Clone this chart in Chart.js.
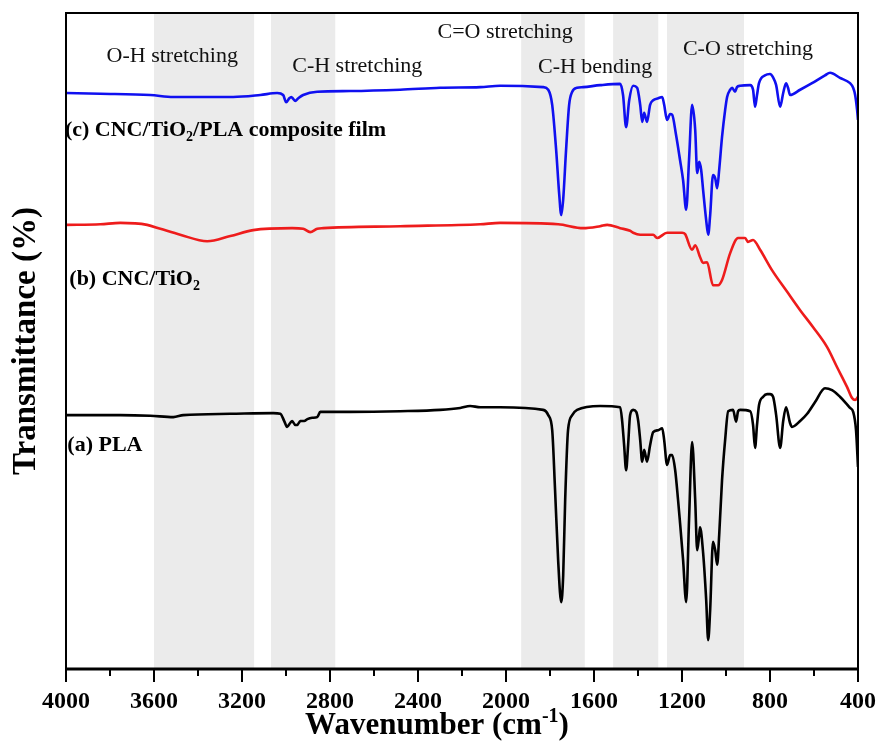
<!DOCTYPE html>
<html><head><meta charset="utf-8">
<script src="https://cdn.jsdelivr.net/npm/chart.js@4.4.1/dist/chart.umd.min.js"></script>
<style>html,body{margin:0;padding:0;background:#fff}</style>
</head><body>
<canvas id="c" width="880" height="742"></canvas>
<script>
// ---- data (wavenumber cm-1, transmittance in arbitrary offset %) ----
const wnA = [4000,3753,3617,3512,3467,3253,3058,3026,3008,2995,2981,2972,2958,2949,2935,2917,2903,2881,2858,2844,2708,2481,2299,2208,2163,2117,2027,1831,1808,1790,1777,1763,1749,1740,1731,1718,1699,1677,1572,1481,1472,1463,1454,1445,1436,1422,1408,1399,1390,1381,1372,1359,1345,1331,1308,1290,1281,1268,1254,1245,1231,1218,1209,1195,1181,1168,1154,1140,1131,1122,1118,1104,1090,1081,1072,1059,1049,1040,1031,1018,1004,990,968,954,945,936,890,877,868,859,850,831,813,800,786,772,754,740,727,709,700,663,631,595,550,518,482,454,436,422,409,400];
const tA  = [38.7,38.7,38.6,38.4,38.7,38.9,39.0,38.9,37.8,36.9,37.5,37.8,37.2,37.2,37.8,37.8,38.1,38.3,38.4,39.2,39.2,39.3,39.5,39.8,40.1,39.9,39.9,39.5,38.7,36.4,27.3,16.6,10.2,14.3,25.8,36.4,38.7,39.5,40.1,39.9,37.8,34.1,30.3,34.1,38.7,39.5,39.2,37.8,34.9,31.6,33.4,31.6,34.1,36.1,36.4,36.7,34.9,31.1,32.6,32.6,30.3,25.8,22.3,16.6,10.2,22.7,34.6,25.8,18.1,20.4,21.6,17.7,10.5,4.4,9.0,19.4,18.1,15.9,20.4,28.8,34.9,39.3,39.5,37.7,39.3,39.5,39.3,37.2,33.7,37.2,40.2,41.5,41.9,41.9,41.5,38.7,33.7,37.8,39.9,37.5,36.9,37.8,38.9,40.7,42.8,42.5,41.5,40.5,39.8,39.2,36.4,30.8];

const wnB = [4000,3844,3753,3631,3571,3481,3358,3253,3149,2972,2922,2890,2858,2831,2481,2117,2027,1763,1649,1572,1540,1481,1436,1422,1390,1345,1331,1313,1268,1209,1199,1186,1154,1140,1118,1104,1086,1059,1036,1018,981,945,913,900,877,845,791,722,663,604,541,495,450,427,413,400];
const tB  = [67.7,67.8,68.0,67.7,67.1,66.2,65.2,66.0,66.9,67.2,67.1,66.6,67.1,67.2,67.5,67.8,68.0,67.8,67.2,67.5,67.7,67.2,66.8,66.5,66.2,66.2,66.2,65.7,66.5,66.5,66.5,66.3,63.9,64.6,62.8,61.9,62.0,58.5,58.5,59.3,63.4,65.7,65.7,65.1,65.4,63.9,60.8,57.5,54.7,52.1,49.1,46.0,43.0,41.3,41.0,41.5];

const wnC = [4000,3844,3617,3512,3390,3240,3117,3040,3013,2999,2985,2976,2967,2958,2944,2922,2858,2708,2481,2299,2117,2027,1831,1808,1790,1772,1758,1749,1740,1727,1713,1699,1677,1649,1572,1481,1468,1454,1440,1422,1404,1390,1381,1372,1359,1345,1331,1308,1290,1281,1268,1254,1245,1227,1209,1195,1181,1168,1154,1140,1131,1122,1113,1104,1090,1081,1072,1059,1049,1040,1031,1018,1004,995,981,972,959,950,936,890,877,868,859,850,822,800,786,772,754,740,727,718,709,663,609,550,527,482,436,422,413,404,400];
const tC  = [87.8,87.7,87.5,87.2,87.2,87.2,87.5,87.8,87.5,86.4,87.0,87.2,86.9,86.6,87.0,87.5,88.0,88.1,88.3,88.6,88.7,88.9,88.7,88.3,86.0,79.1,72.3,69.2,71.6,79.1,86.0,88.0,88.6,88.7,89.0,89.2,87.5,82.6,86.7,88.9,88.6,86.0,83.4,84.8,83.4,86.0,86.7,87.0,87.2,86.0,83.7,84.6,84.5,81.4,77.6,74.5,70.0,77.6,86.0,82.2,75.6,77.3,76.1,73.0,68.4,66.2,69.2,75.3,74.8,73.3,76.1,81.1,85.2,87.2,88.3,88.6,88.0,88.7,88.9,89.0,88.3,85.7,87.5,89.3,90.5,90.7,90.2,89.0,85.7,87.8,89.3,88.6,87.5,88.3,89.3,90.5,90.9,90.1,89.3,88.6,87.5,85.2,83.7];

const xTickMajor = [4000,3600,3200,2800,2400,2000,1600,1200,800,400];
const bands = [[3600,3145],[3068,2776],[1931,1642],[1513,1308],[1268,918]];
const bandNotes = ['O-H stretching','C-H stretching','C=O stretching','C-H bending','C-O stretching'];
const noteAnchors = [[3517,92.5],[2676,91.0],[2004,96.2],[1595,90.9],[900,93.6]];
const seriesNames = [['(a) PLA',''],['(b) CNC/TiO','2',''],['(c) CNC/TiO','2','/PLA composite film']];
const nameAnchors = [[3994,33.2],[3985,58.5],[4005,81.3]];

const SERIF = '"Liberation Serif","Times New Roman",serif';
const pts = (xs, ys) => xs.map((v, i) => ({x: v, y: ys[i]}));

function rich(ctx, x, y, parts, align) {
  let w = 0;
  parts.forEach(p => { ctx.font = p.f; p.w = ctx.measureText(p.t).width; w += p.w; });
  let cx = align === 'center' ? x - w / 2 : x;
  parts.forEach(p => { ctx.font = p.f; ctx.fillText(p.t, cx, y + (p.dy || 0)); cx += p.w; });
}

const decor = {
  id: 'decor',
  beforeDatasetsDraw(chart) {
    const {ctx, chartArea: a, scales: {x}} = chart;
    ctx.save();
    ctx.fillStyle = '#ebebeb';
    bands.forEach(([h, l]) => {
      const x1 = x.getPixelForValue(h), x2 = x.getPixelForValue(l);
      ctx.fillRect(x1, a.top, x2 - x1, a.bottom - a.top);
    });
    ctx.restore();
  },
  afterDatasetsDraw(chart) {
    const {ctx, chartArea: a, scales: {x, y}} = chart;
    ctx.save();
    ctx.strokeStyle = '#000';
    ctx.lineWidth = 2;
    ctx.strokeRect(a.left, a.top, a.right - a.left, a.bottom - a.top);
    ctx.lineWidth = 3;
    ctx.beginPath(); ctx.moveTo(a.left - 1, a.bottom); ctx.lineTo(a.right + 1, a.bottom); ctx.stroke();
    ctx.lineWidth = 2;
    x.ticks.forEach(t => {
      const px = x.getPixelForValue(t.value);
      const len = xTickMajor.includes(t.value) ? 13 : 7;
      ctx.beginPath(); ctx.moveTo(px, a.bottom); ctx.lineTo(px, a.bottom + len); ctx.stroke();
    });
    ctx.fillStyle = '#111';
    ctx.textBaseline = 'alphabetic';
    bandNotes.forEach((s, i) => {
      const [wv, tv] = noteAnchors[i];
      rich(ctx, x.getPixelForValue(wv), y.getPixelForValue(tv), [{t: s, f: '22px ' + SERIF}], 'center');
    });
    ctx.fillStyle = '#000';
    seriesNames.forEach((n, i) => {
      const [wv, tv] = nameAnchors[i];
      const parts = [{t: n[0], f: 'bold 22px ' + SERIF}];
      if (n[1]) parts.push({t: n[1], f: 'bold 14px ' + SERIF, dy: 5});
      if (n[2]) parts.push({t: n[2], f: 'bold 22px ' + SERIF});
      rich(ctx, Math.max(x.getPixelForValue(wv), 0), y.getPixelForValue(tv), parts, 'left');
    });
    rich(ctx, 437, 734, [
      {t: 'Wavenumber (cm', f: 'bold 31px ' + SERIF},
      {t: '-1', f: 'bold 20px ' + SERIF, dy: -12},
      {t: ')', f: 'bold 31px ' + SERIF}
    ], 'center');
    ctx.restore();
  }
};

new Chart(document.getElementById('c'), {
  type: 'line',
  data: {
    datasets: [
      {label: '(a) PLA', data: pts(wnA, tA), borderColor: '#000000'},
      {label: '(b) CNC/TiO2', data: pts(wnB, tB), borderColor: '#ee1c1c'},
      {label: '(c) CNC/TiO2/PLA composite film', data: pts(wnC, tC), borderColor: '#1010f0'}
    ]
  },
  options: {
    responsive: false,
    animation: false,
    devicePixelRatio: 1,
    layout: {padding: {left: 0, right: 22, top: 13, bottom: 0}},
    elements: {
      line: {borderWidth: 2.6, cubicInterpolationMode: 'monotone', fill: false},
      point: {radius: 0}
    },
    plugins: {legend: {display: false}, tooltip: {enabled: false}},
    scales: {
      x: {
        type: 'linear', reverse: true, min: 400, max: 4000,
        grid: {display: false, drawTicks: false},
        border: {display: false},
        ticks: {
          stepSize: 200, autoSkip: false, maxRotation: 0, padding: 18,
          color: '#000', font: {family: SERIF, size: 24, weight: 'bold'},
          callback: v => xTickMajor.includes(v) ? String(v) : ''
        },
        afterFit: s => { s.height = 73; s.paddingLeft = 0; s.paddingRight = 0; }
      },
      y: {
        min: 0, max: 100,
        grid: {display: false, drawTicks: false},
        border: {display: false},
        ticks: {display: false},
        title: {display: true, text: 'Transmittance (%)', color: '#000',
                font: {family: SERIF, size: 33, weight: 'bold'}, padding: {top: 7, bottom: 0}},
        afterFit: s => { s.width = 66; }
      }
    }
  },
  plugins: [decor]
});
</script>
</body></html>
